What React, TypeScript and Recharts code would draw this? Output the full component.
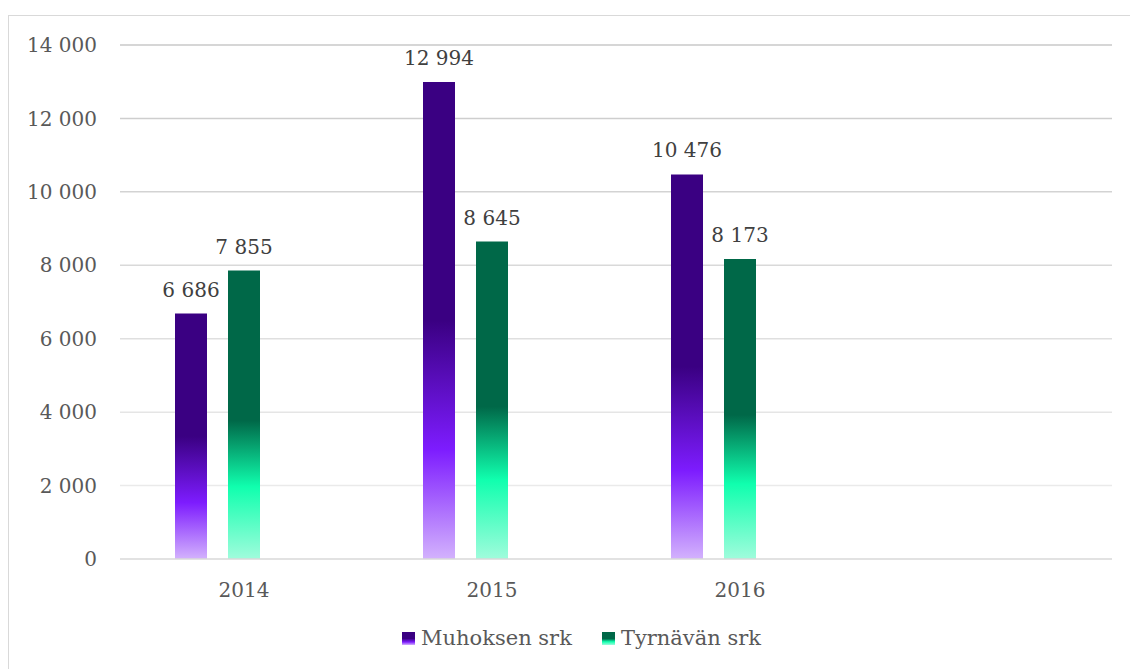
import React from "react";
import { Bar, BarChart, CartesianGrid, LabelList, XAxis, YAxis } from "recharts";

const years = ["2014", "2015", "2016", ""];
const muhos = [6686, 12994, 10476, null];
const tyrnava = [7855, 8645, 8173, null];
const yTicks = [0, 2000, 4000, 6000, 8000, 10000, 12000, 14000];

const data = years.map((y, i) => ({ year: y, muhos: muhos[i], tyrnava: tyrnava[i], empty: null }));

const FONT = "'DejaVu Serif', 'Liberation Serif', serif";
const fmt = (v: any) => (v == null ? "" : String(v).replace(/\B(?=(\d{3})+(?!\d))/g, " "));

const PLOT_TOP = 45;
const PLOT_H = 514;

function gridLine(props: any) {
  const t = Math.min(1, Math.max(0, (props.y1 - PLOT_TOP) / PLOT_H));
  const g = Math.round(0xc8 + (0xf0 - 0xc8) * t);
  if (props.y1 > PLOT_TOP + PLOT_H - 2) return <g key={props.key} />;
  return (
    <line
      key={props.key}
      x1={props.x1}
      x2={props.x2}
      y1={props.y1}
      y2={props.y2}
      stroke={`rgb(${g},${g},${g})`}
      strokeWidth={1.5}
    />
  );
}

function valueLabel(props: any) {
  const { x, y, width, value } = props;
  if (value == null) return null;
  return (
    <text
      x={x + width / 2}
      y={y - 17}
      textAnchor="middle"
      fill="#404040"
      fontSize={20}
      fontFamily={FONT}
    >
      {fmt(value)}
    </text>
  );
}

function Swatch({ fill }: { fill: string }) {
  return (
    <svg width={13} height={13} style={{ marginRight: 6 }}>
      <rect width={13} height={13} fill={fill} />
    </svg>
  );
}

export default function App() {
  return (
    <div style={{ position: "absolute", left: 0, top: 0, width: 1130, height: 669, overflow: "hidden", background: "#fff" }}>
      <div style={{ position: "absolute", left: 8, top: 15, width: 1200, height: 800, border: "1px solid #d9d9d9" }} />
      <div style={{ position: "absolute", left: 0, top: 0 }}>
        <BarChart
          width={1130}
          height={669}
          data={data}
          margin={{ top: PLOT_TOP, right: 18, bottom: 70, left: 20 }}
          barSize={32}
          barGap={21}
        >
          <defs>
            <linearGradient id="gPurple" x1="0" y1="0" x2="0" y2="1">
              <stop offset="0" stopColor="#3a0082" />
              <stop offset="0.5" stopColor="#3a0082" />
              <stop offset="0.77" stopColor="#7d1cfe" />
              <stop offset="1" stopColor="#d3b2fd" />
            </linearGradient>
            <linearGradient id="gGreen" x1="0" y1="0" x2="0" y2="1">
              <stop offset="0" stopColor="#006848" />
              <stop offset="0.52" stopColor="#006848" />
              <stop offset="0.75" stopColor="#10ffae" />
              <stop offset="1" stopColor="#a0fcdc" />
            </linearGradient>
          </defs>
          <CartesianGrid vertical={false} horizontal={gridLine as any} />
          <XAxis
            dataKey="year"
            axisLine={{ stroke: "#d9d9d9", strokeWidth: 1.5 }}
            tickLine={false}
            height={40}
            tickMargin={18}
            tick={{ fill: "#595959", fontSize: 20, fontFamily: FONT }}
          />
          <YAxis
            domain={[0, 14000]}
            ticks={yTicks}
            width={100}
            axisLine={false}
            tickLine={false}
            tickMargin={17}
            tickFormatter={fmt}
            tick={{ fill: "#595959", fontSize: 20, fontFamily: FONT }}
          />
          <Bar dataKey="muhos" fill="url(#gPurple)" isAnimationActive={false}>
            <LabelList dataKey="muhos" content={valueLabel} />
          </Bar>
          <Bar dataKey="tyrnava" fill="url(#gGreen)" isAnimationActive={false}>
            <LabelList dataKey="tyrnava" content={valueLabel} />
          </Bar>
          <Bar dataKey="empty" fill="none" isAnimationActive={false} />
        </BarChart>
      </div>
      <div
        style={{
          position: "absolute",
          left: 402,
          top: 626,
          display: "flex",
          alignItems: "center",
          fontFamily: FONT,
          fontSize: 21,
          color: "#595959",
          whiteSpace: "nowrap",
        }}
      >
        <Swatch fill="url(#gPurple)" />
        <span style={{ marginRight: 30 }}>Muhoksen srk</span>
        <Swatch fill="url(#gGreen)" />
        <span>Tyrnävän srk</span>
      </div>
    </div>
  );
}
